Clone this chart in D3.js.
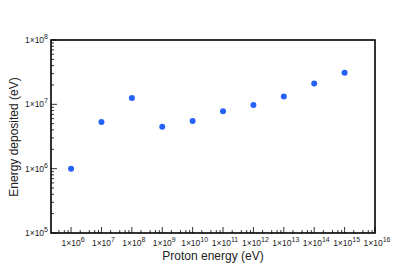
<!DOCTYPE html>
<html><head><meta charset="utf-8">
<script src="https://cdn.jsdelivr.net/npm/d3@7"></script>
<style>body{margin:0;background:#fff}svg{display:block}text{font-family:"Liberation Sans",Arial,sans-serif;fill:#222}</style>
</head><body>
<svg id="c" width="415" height="273"></svg>
<script>
const xExponents = [6,7,8,9,10,11,12,13,14,15];
const energyDeposited = [1.0e6,5.3e6,1.26e7,4.5e6,5.5e6,7.8e6,9.8e6,1.32e7,2.1e7,3.1e7];
const xTickExponents = [6,7,8,9,10,11,12,13,14,15,16];
const yTickExponents = [5,6,7,8];
const xTitle = "Proton energy (eV)";
const yTitle = "Energy deposited (eV)";

const svg = d3.select("#c");
const L=51,T=40,R=375,B=233;
const x = d3.scaleLog().domain([Math.pow(10,5.34),1e16]).range([L,R]);
const y = d3.scaleLog().domain([1e5,1e8]).range([B,T]);

const xMinor=[], yMinor=[];
for(let e=5;e<16;e++){[2,4,6,8].forEach(m=>{const v=m*Math.pow(10,e); if(v>x.domain()[0]&&v<1e16) xMinor.push(v);});}
for(let e=5;e<8;e++){[2,3,4,5,6,7,8,9].forEach(m=>yMinor.push(m*Math.pow(10,e)));}
const g=svg.append("g").attr("stroke","#000");
g.selectAll(".xm").data(xMinor).join("line").attr("x1",d=>x(d)).attr("x2",d=>x(d)).attr("y1",B).attr("y2",B-3).attr("stroke-width",0.8);
g.selectAll(".xM").data(xTickExponents).join("line").attr("x1",d=>x(Math.pow(10,d))).attr("x2",d=>x(Math.pow(10,d))).attr("y1",B).attr("y2",B-6).attr("stroke-width",0.8);
g.selectAll(".ym").data(yMinor).join("line").attr("y1",d=>y(d)).attr("y2",d=>y(d)).attr("x1",L).attr("x2",L+3).attr("stroke-width",0.8);
g.selectAll(".yM").data(yTickExponents).join("line").attr("y1",d=>y(Math.pow(10,d))).attr("y2",d=>y(Math.pow(10,d))).attr("x1",L).attr("x2",L+6).attr("stroke-width",0.8);

svg.append("rect").attr("x",L).attr("y",T).attr("width",R-L).attr("height",B-T).attr("fill","none").attr("stroke","#000").attr("stroke-width",1.6);

function sciLabel(sel){
  sel.append("tspan").text("1×10").attr("font-size",8.5);
  sel.append("tspan").text(d=>d).attr("font-size",7).attr("dy",-4);
}
svg.selectAll(".xl").data(xTickExponents).join("text")
  .attr("x",d=>x(Math.pow(10,d))+2).attr("y",246).attr("text-anchor","middle").call(sciLabel);
svg.selectAll(".yl").data(yTickExponents).join("text")
  .attr("x",L-3).attr("y",d=>y(Math.pow(10,d))+3).attr("text-anchor","end").call(sciLabel);

svg.append("text").attr("x",213).attr("y",260).attr("text-anchor","middle").attr("font-size",12).text(xTitle);
svg.append("text").attr("transform","translate(18,137) rotate(-90)").attr("text-anchor","middle").attr("font-size",12).text(yTitle);

svg.selectAll("circle").data(xExponents.map((e,i)=>[e,energyDeposited[i]])).join("circle")
  .attr("cx",d=>x(Math.pow(10,d[0]))).attr("cy",d=>y(d[1])).attr("r",3).attr("fill","#2563f7");
</script>
</body></html>
